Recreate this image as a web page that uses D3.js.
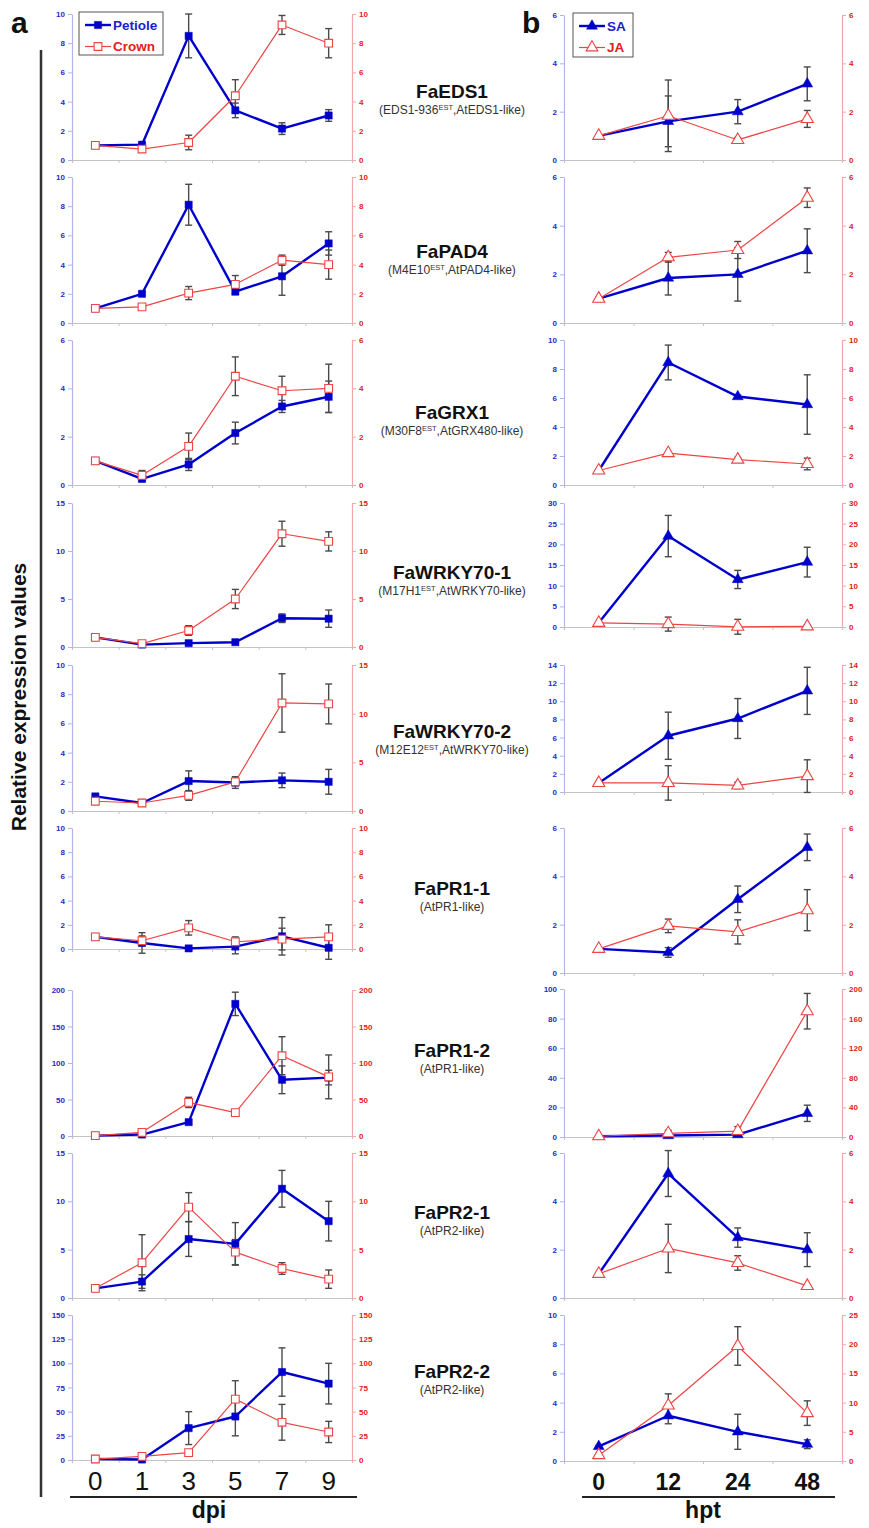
<!DOCTYPE html>
<html>
<head>
<meta charset="utf-8">
<script src="https://cdn.jsdelivr.net/npm/d3@7/dist/d3.min.js"></script>
<style>
  html, body { margin: 0; padding: 0; background: #fff; }
  svg { display: block; font-family: "Liberation Sans", Arial, sans-serif; }
</style>
</head>
<body>
<div id="chart"></div>
<script>
// ---- categories ----
const dpiDays = ["0", "1", "3", "5", "7", "9"];
const hptHours = ["0", "12", "24", "48"];

// ---- gene names and annotations (before / superscript / after) ----
const geneNames = ["FaEDS1", "FaPAD4", "FaGRX1", "FaWRKY70-1", "FaWRKY70-2",
                   "FaPR1-1", "FaPR1-2", "FaPR2-1", "FaPR2-2"];
const geneNotes = [
  ["(EDS1-936", "EST", ",AtEDS1-like)"],
  ["(M4E10", "EST", ",AtPAD4-like)"],
  ["(M30F8", "EST", ",AtGRX480-like)"],
  ["(M17H1", "EST", ",AtWRKY70-like)"],
  ["(M12E12", "EST", ",AtWRKY70-like)"],
  ["(AtPR1-like)", "", ""],
  ["(AtPR1-like)", "", ""],
  ["(AtPR2-like)", "", ""],
  ["(AtPR2-like)", "", ""]
];

// ---- panel a: infection time course (dpi) ----
const petiole = [
  [1.0, 1.05, 8.5, 3.4, 2.15, 3.05],
  [1.0, 2.0, 8.1, 2.15, 3.2, 5.45],
  [1.0, 0.25, 0.85, 2.15, 3.25, 3.65],
  [1.0, 0.25, 0.4, 0.5, 3.0, 2.95],
  [1.0, 0.55, 2.05, 1.95, 2.1, 2.0],
  [1.0, 0.5, 0.05, 0.2, 1.05, 0.1],
  [0.5, 2, 19, 181, 77, 80],
  [1.0, 1.7, 6.1, 5.6, 11.3, 7.95],
  [1.0, 0.5, 33, 45, 91, 79]
];
const petioleErr = [
  [0.05, 0.1, 1.5, 0.5, 0.4, 0.4],
  [0.05, 0.1, 1.4, 0.2, 1.3, 0.8],
  [0.05, 0.08, 0.25, 0.45, 0.25, 0.65],
  [0.05, 0.05, 0.1, 0.1, 0.45, 0.9],
  [0.05, 0.05, 0.7, 0.4, 0.5, 0.85],
  [0.05, 0.85, 0.05, 0.6, 1.55, 0.95],
  [0.2, 1, 2, 16, 19, 10],
  [0.05, 0.7, 1.8, 2.2, 1.9, 2.05],
  [0.3, 0.5, 17, 20, 25, 21]
];
const crown = [
  [1.0, 0.75, 1.2, 4.4, 9.25, 8.0],
  [1.0, 1.1, 2.05, 2.65, 4.3, 4.0],
  [1.0, 0.4, 1.6, 4.5, 3.9, 4.0],
  [1.0, 0.35, 1.72, 5.0, 11.8, 11.0],
  [1.0, 0.82, 1.6, 3.0, 11.1, 11.0],
  [1.0, 0.68, 1.75, 0.6, 0.82, 1.0],
  [0.5, 5, 46, 32, 110, 81],
  [1.0, 3.65, 9.4, 4.75, 3.05, 1.95],
  [1.0, 3.8, 7.6, 63, 39, 29]
];
const crownErr = [
  [0.05, 0.15, 0.5, 1.1, 0.65, 1.0],
  [0.05, 0.1, 0.45, 0.6, 0.35, 1.0],
  [0.05, 0.2, 0.55, 0.8, 0.6, 1.0],
  [0.05, 0.1, 0.5, 1.0, 1.3, 1.0],
  [0.05, 0.1, 0.5, 0.4, 3.0, 2.05],
  [0.05, 0.4, 0.6, 0.4, 0.9, 1.0],
  [0.2, 2, 7, 4, 26, 30],
  [0.05, 2.9, 1.5, 1.3, 0.6, 0.95],
  [0.3, 1, 2, 19, 18.5, 11]
];

// ---- panel b: hormone treatment time course (hpt) ----
const saValues = [
  [1.0, 1.6, 2.0, 3.15],
  [1.0, 1.85, 2.0, 2.97],
  [1.0, 8.45, 6.1, 5.55],
  [1.0, 22.0, 11.5, 15.7],
  [1.0, 6.2, 8.1, 11.15],
  [1.0, 0.85, 3.05, 5.2],
  [0.5, 1.0, 1.6, 16],
  [1.0, 5.15, 2.5, 2.0],
  [1.0, 3.1, 2.0, 1.15]
];
const saErr = [
  [0.05, 1.05, 0.5, 0.7],
  [0.05, 0.7, 1.1, 0.9],
  [0.05, 1.2, 0.1, 2.05],
  [0.1, 5.0, 2.2, 3.6],
  [0.1, 2.6, 2.2, 2.6],
  [0.05, 0.2, 0.55, 0.55],
  [0.2, 0.5, 0.8, 5.5],
  [0.05, 0.95, 0.4, 0.7],
  [0.05, 0.55, 1.2, 0.3]
];
const jaValues = [
  [1.0, 1.83, 0.83, 1.7],
  [1.0, 2.7, 3.0, 5.15],
  [1.0, 2.2, 1.75, 1.45],
  [1.0, 0.7, 0.05, 0.15],
  [1.0, 1.0, 0.72, 1.75],
  [1.0, 1.95, 1.7, 2.6],
  [1.0, 5, 8, 170],
  [1.0, 2.05, 1.45, 0.5],
  [1.0, 9.5, 19.7, 8.2]
];
const jaErr = [
  [0.05, 1.48, 0.1, 0.35],
  [0.05, 0.2, 0.35, 0.4],
  [0.05, 0.05, 0.15, 0.4],
  [0.1, 1.7, 1.8, 0.35],
  [0.1, 1.9, 0.35, 1.8],
  [0.05, 0.28, 0.5, 0.85],
  [0.5, 4, 6, 24],
  [0.05, 1.0, 0.3, 0.05],
  [0.1, 2.0, 3.3, 2.1]
];

// ---- axis tick labels per panel: [left ticks, right ticks] ----
const dpiTicks = [
  [[0, 2, 4, 6, 8, 10], [0, 2, 4, 6, 8, 10]],
  [[0, 2, 4, 6, 8, 10], [0, 2, 4, 6, 8, 10]],
  [[0, 2, 4, 6], [0, 2, 4, 6]],
  [[0, 5, 10, 15], [0, 5, 10, 15]],
  [[0, 2, 4, 6, 8, 10], [0, 5, 10, 15]],
  [[0, 2, 4, 6, 8, 10], [0, 2, 4, 6, 8, 10]],
  [[0, 50, 100, 150, 200], [0, 50, 100, 150, 200]],
  [[0, 5, 10, 15], [0, 5, 10, 15]],
  [[0, 25, 50, 75, 100, 125, 150], [0, 25, 50, 75, 100, 125, 150]]
];
const hptTicks = [
  [[0, 2, 4, 6], [0, 2, 4, 6]],
  [[0, 2, 4, 6], [0, 2, 4, 6]],
  [[0, 2, 4, 6, 8, 10], [0, 2, 4, 6, 8, 10]],
  [[0, 5, 10, 15, 20, 25, 30], [0, 5, 10, 15, 20, 25, 30]],
  [[0, 2, 4, 6, 8, 10, 12, 14], [0, 2, 4, 6, 8, 10, 12, 14]],
  [[0, 2, 4, 6], [0, 2, 4, 6]],
  [[0, 20, 40, 60, 80, 100], [0, 40, 80, 120, 160, 200]],
  [[0, 2, 4, 6], [0, 2, 4, 6]],
  [[0, 2, 4, 6, 8, 10], [0, 5, 10, 15, 20, 25]]
];

// ---- page geometry ----
const W = 869, H = 1528;
const colA = { x0: 72, x1: 352 };
const colB = { x0: 564, x1: 842 };
// vertical extent [top, zero line] of each panel
const rowsA = [[14, 160], [177, 323], [340, 485], [503, 647], [665, 811],
               [828, 949], [990, 1136], [1153, 1298], [1315, 1460]];
const rowsB = [[15, 160], [177, 323], [340, 485], [503, 627], [665, 792],
               [828, 973], [989, 1137], [1153, 1298], [1315, 1461]];
const titleY = [98, 258, 419, 579, 738, 895, 1057, 1219, 1378];
const titleX = 452;

const BLUE = "#0000cc", RED = "#ee4444";
const BLUE_TXT = "#2a2ac8", RED_TXT = "#e02020";
const BLUE_AXIS = "#b4b4ea", RED_AXIS = "#f2a8a8";
const ERR = "#4a4a4a";
const FONT = "Liberation Sans, Arial, sans-serif";

const svg = d3.select("#chart").append("svg")
  .attr("width", W).attr("height", H);

function drawPanel(col, row, cats, s1, e1, s2, e2, ticks, shape) {
  const [top, bottom] = row;
  const x = d3.scaleBand().domain(cats).range([col.x0, col.x1]);
  const cx = c => x(c) + x.bandwidth() / 2;
  const yL = d3.scaleLinear().domain([0, d3.max(ticks[0])]).range([bottom, top]);
  const yR = d3.scaleLinear().domain([0, d3.max(ticks[1])]).range([bottom, top]);
  const g = svg.append("g");

  // bottom axis with ticks between categories
  const xAxis = g.append("g").attr("transform", `translate(0,${bottom})`)
    .call(d3.axisBottom(d3.scaleLinear().domain([0, cats.length]).range([col.x0, col.x1]))
      .tickValues(d3.range(0, cats.length + 1)).tickSize(3).tickFormat(""));
  xAxis.select(".domain").attr("stroke", "#c4c4c4").attr("stroke-width", 1.2);
  xAxis.selectAll(".tick line").attr("stroke", "#c4c4c4");

  // left value axis
  const la = g.append("g").attr("transform", `translate(${col.x0},0)`)
    .call(d3.axisLeft(yL).tickValues(ticks[0]).tickFormat(d3.format("d"))
      .tickSize(4).tickPadding(3).tickSizeOuter(0));
  la.select(".domain").attr("stroke", BLUE_AXIS).attr("stroke-width", 1.2);
  la.selectAll(".tick line").attr("stroke", BLUE_AXIS);
  la.selectAll(".tick text").attr("fill", BLUE_TXT).attr("font-size", 8)
    .attr("font-weight", "bold").attr("font-family", FONT);

  // right value axis
  const ra = g.append("g").attr("transform", `translate(${col.x1},0)`)
    .call(d3.axisRight(yR).tickValues(ticks[1]).tickFormat(d3.format("d"))
      .tickSize(4).tickPadding(3).tickSizeOuter(0));
  ra.select(".domain").attr("stroke", RED_AXIS).attr("stroke-width", 1.2);
  ra.selectAll(".tick line").attr("stroke", RED_AXIS);
  ra.selectAll(".tick text").attr("fill", RED_TXT).attr("font-size", 8)
    .attr("font-weight", "bold").attr("font-family", FONT);

  const series = [
    { v: s1, e: e1, y: yL, color: BLUE, width: 2.4, filled: true },
    { v: s2, e: e2, y: yR, color: RED, width: 1.2, filled: false }
  ];

  // error bars
  series.forEach(s => {
    const eb = g.append("g").attr("stroke", ERR).attr("stroke-width", 1.4);
    cats.forEach((c, i) => {
      const lo = s.y(s.v[i] - s.e[i]), hi = s.y(s.v[i] + s.e[i]);
      const px = cx(c);
      eb.append("line").attr("x1", px).attr("x2", px).attr("y1", lo).attr("y2", hi);
      eb.append("line").attr("x1", px - 3.5).attr("x2", px + 3.5).attr("y1", lo).attr("y2", lo);
      eb.append("line").attr("x1", px - 3.5).attr("x2", px + 3.5).attr("y1", hi).attr("y2", hi);
    });
  });

  // lines and markers
  const symType = shape === "square" ? d3.symbolSquare : d3.symbolTriangle;
  series.forEach(s => {
    const line = d3.line().x((d, i) => cx(cats[i])).y(d => s.y(d));
    g.append("path").datum(s.v).attr("d", line)
      .attr("fill", "none").attr("stroke", s.color).attr("stroke-width", s.width)
      .attr("stroke-linejoin", "round");
    const size = shape === "square" ? (s.filled ? 52 : 60) : (s.filled ? 52 : 64);
    g.selectAll(null).data(s.v).join("path")
      .attr("transform", (d, i) => `translate(${cx(cats[i])},${s.y(d)})`)
      .attr("d", d3.symbol().type(symType).size(size))
      .attr("fill", s.filled ? s.color : "#fff")
      .attr("stroke", s.color).attr("stroke-width", s.filled ? 0.5 : 1.1);
  });
}

// draw all panels
geneNames.forEach((name, i) => {
  drawPanel(colA, rowsA[i], dpiDays, petiole[i], petioleErr[i], crown[i], crownErr[i], dpiTicks[i], "square");
  drawPanel(colB, rowsB[i], hptHours, saValues[i], saErr[i], jaValues[i], jaErr[i], hptTicks[i], "triangle");

  // gene label
  svg.append("text").attr("x", titleX).attr("y", titleY[i])
    .attr("text-anchor", "middle").attr("font-size", 19).attr("font-weight", "bold")
    .attr("fill", "#111").text(name);
  const note = svg.append("text").attr("x", titleX).attr("y", titleY[i] + 16)
    .attr("text-anchor", "middle").attr("font-size", 12).attr("fill", "#333");
  const [pre, sup, post] = geneNotes[i];
  note.append("tspan").text(pre);
  if (sup) {
    note.append("tspan").attr("dy", -4.5).attr("font-size", 7.5).text(sup);
    note.append("tspan").attr("dy", 4.5).text(post);
  }
});

// legends
function legend(x, y, w, h, entries, shape) {
  const g = svg.append("g").attr("transform", `translate(${x},${y})`);
  g.append("rect").attr("width", w).attr("height", h)
    .attr("fill", "#fff").attr("stroke", "#555").attr("stroke-width", 1);
  const symType = shape === "square" ? d3.symbolSquare : d3.symbolTriangle;
  entries.forEach((e, i) => {
    const yy = 13 + i * 21.5;
    g.append("line").attr("x1", 6).attr("x2", 32).attr("y1", yy).attr("y2", yy)
      .attr("stroke", e.color).attr("stroke-width", e.filled ? 2.4 : 1.2);
    g.append("path").attr("transform", `translate(19,${yy})`)
      .attr("d", d3.symbol().type(symType).size(e.filled ? 52 : 60))
      .attr("fill", e.filled ? e.color : "#fff").attr("stroke", e.color)
      .attr("stroke-width", e.filled ? 0.5 : 1.1);
    g.append("text").attr("x", 34).attr("y", yy + 4.8).attr("font-size", 13.5)
      .attr("font-weight", "bold").attr("fill", e.text).text(e.label);
  });
}
legend(79, 12, 84, 43, [
  { label: "Petiole", color: BLUE, text: "#2020d0", filled: true },
  { label: "Crown", color: RED, text: "#e02020", filled: false }
], "square");
legend(573, 13, 60, 44, [
  { label: "SA", color: BLUE, text: "#2020d0", filled: true },
  { label: "JA", color: RED, text: "#e02020", filled: false }
], "triangle");

// panel letters
svg.append("text").attr("x", 11).attr("y", 33).attr("font-size", 30)
  .attr("font-weight", "bold").attr("fill", "#111").text("a");
svg.append("text").attr("x", 522).attr("y", 33).attr("font-size", 30)
  .attr("font-weight", "bold").attr("fill", "#111").text("b");

// shared y title and bracket line
svg.append("line").attr("x1", 41).attr("x2", 41).attr("y1", 50).attr("y2", 1497)
  .attr("stroke", "#333").attr("stroke-width", 2.5);
svg.append("text").attr("transform", "translate(26,697) rotate(-90)")
  .attr("text-anchor", "middle").attr("font-size", 21).attr("font-weight", "bold")
  .attr("fill", "#111").text("Relative expression values");

// x category labels and titles
function bottomLabels(col, cats, size, weight, lineX, title, titleX0) {
  const x = d3.scaleBand().domain(cats).range([col.x0, col.x1]);
  svg.selectAll(null).data(cats).join("text")
    .attr("x", d => x(d) + x.bandwidth() / 2).attr("y", 1490)
    .attr("text-anchor", "middle").attr("font-size", size).attr("font-weight", weight)
    .attr("fill", "#111").text(d => d);
  svg.append("line").attr("x1", lineX[0]).attr("x2", lineX[1]).attr("y1", 1497).attr("y2", 1497)
    .attr("stroke", "#222").attr("stroke-width", 2);
  svg.append("text").attr("x", titleX0).attr("y", 1518).attr("text-anchor", "middle")
    .attr("font-size", 23).attr("font-weight", "bold").attr("fill", "#111").text(title);
}
bottomLabels(colA, dpiDays, 26, "normal", [70, 357], "dpi", 209);
bottomLabels(colB, hptHours, 23, "bold", [582, 835], "hpt", 703);
</script>
</body>
</html>
